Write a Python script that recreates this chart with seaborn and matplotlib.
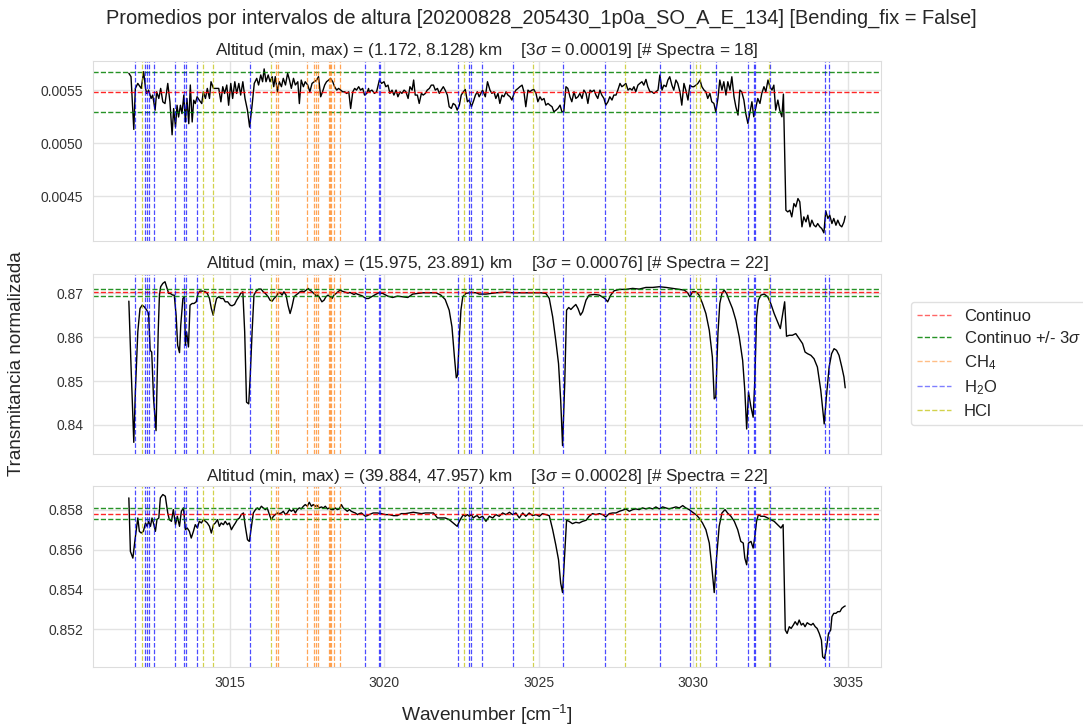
import matplotlib
matplotlib.use("Agg")
import matplotlib.pyplot as plt
from matplotlib.lines import Line2D
import seaborn as sns
import pandas as pd

# ---------------- data ----------------
wn1 = [3011.73, 3011.80, 3011.89, 3011.94, 3012.02, 3012.13, 3012.21, 3012.27, 3012.31, 3012.37,
       3012.45, 3012.50, 3012.58, 3012.63, 3012.70, 3012.76, 3012.83, 3012.90, 3012.99, 3013.06,
       3013.13, 3013.18, 3013.24, 3013.29, 3013.34, 3013.40, 3013.45, 3013.51, 3013.56, 3013.61,
       3013.67, 3013.72, 3013.78, 3013.83, 3013.88, 3013.94, 3014.01, 3014.09, 3014.14, 3014.21,
       3014.27, 3014.34, 3014.39, 3014.47, 3014.55, 3014.64, 3014.71, 3014.77, 3014.83, 3014.90,
       3014.96, 3015.03, 3015.09, 3015.16, 3015.22, 3015.29, 3015.35, 3015.42, 3015.49, 3015.57,
       3015.64, 3015.72, 3015.79, 3015.87, 3015.93, 3016.00, 3016.06, 3016.11, 3016.17, 3016.24,
       3016.30, 3016.37, 3016.42, 3016.47, 3016.54, 3016.60, 3016.67, 3016.73, 3016.80, 3016.87,
       3016.93, 3016.99, 3017.06, 3017.12, 3017.20, 3017.25, 3017.31, 3017.38, 3017.44, 3017.52,
       3017.59, 3017.66, 3017.73, 3017.81, 3017.87, 3017.94, 3018.00, 3018.07, 3018.13, 3018.20,
       3018.26, 3018.33, 3018.39, 3018.46, 3018.52, 3018.59, 3018.65, 3018.72, 3018.78, 3018.85,
       3018.91, 3018.98, 3019.04, 3019.10, 3019.17, 3019.23, 3019.30, 3019.36, 3019.43, 3019.49,
       3019.51, 3019.60, 3019.68, 3019.75, 3019.84, 3019.91, 3019.99, 3020.05, 3020.12, 3020.18,
       3020.25, 3020.31, 3020.38, 3020.44, 3020.51, 3020.57, 3020.64, 3020.70, 3020.77, 3020.83,
       3020.90, 3020.95, 3021.00, 3021.07, 3021.13, 3021.20, 3021.26, 3021.33, 3021.39, 3021.46,
       3021.52, 3021.59, 3021.65, 3021.72, 3021.78, 3021.84, 3021.91, 3021.97, 3022.04, 3022.10,
       3022.17, 3022.23, 3022.30, 3022.36, 3022.43, 3022.49, 3022.56, 3022.62, 3022.69, 3022.75,
       3022.82, 3022.88, 3022.95, 3023.01, 3023.07, 3023.18, 3023.27, 3023.34, 3023.42, 3023.48,
       3023.55, 3023.61, 3023.68, 3023.74, 3023.81, 3023.87, 3023.94, 3024.00, 3024.07, 3024.13,
       3024.20, 3024.26, 3024.33, 3024.39, 3024.46, 3024.52, 3024.58, 3024.65, 3024.71, 3024.78,
       3024.84, 3024.91, 3024.97, 3025.04, 3025.10, 3025.17, 3025.23, 3025.30, 3025.36, 3025.43,
       3025.49, 3025.56, 3025.62, 3025.69, 3025.75, 3025.81, 3025.88, 3025.94, 3026.01, 3026.07,
       3026.14, 3026.20, 3026.27, 3026.33, 3026.40, 3026.46, 3026.53, 3026.59, 3026.66, 3026.72,
       3026.79, 3026.85, 3026.91, 3026.98, 3027.04, 3027.11, 3027.17, 3027.24, 3027.30, 3027.37,
       3027.43, 3027.50, 3027.56, 3027.63, 3027.69, 3027.76, 3027.82, 3027.89, 3027.95, 3028.02,
       3028.08, 3028.14, 3028.21, 3028.27, 3028.34, 3028.40, 3028.47, 3028.53, 3028.60, 3028.66,
       3028.73, 3028.79, 3028.86, 3028.92, 3028.99, 3029.05, 3029.12, 3029.18, 3029.24, 3029.31,
       3029.37, 3029.44, 3029.50, 3029.57, 3029.63, 3029.70, 3029.76, 3029.83, 3029.89, 3029.96,
       3030.02, 3030.09, 3030.15, 3030.22, 3030.28, 3030.35, 3030.41, 3030.47, 3030.54, 3030.60,
       3030.67, 3030.73, 3030.80, 3030.86, 3030.93, 3030.99, 3031.06, 3031.12, 3031.19, 3031.25,
       3031.32, 3031.38, 3031.45, 3031.51, 3031.57, 3031.64, 3031.70, 3031.77, 3031.83, 3031.90,
       3031.96, 3032.03, 3032.09, 3032.16, 3032.22, 3032.29, 3032.35, 3032.42, 3032.48, 3032.55,
       3032.61, 3032.67, 3032.74, 3032.80, 3032.87, 3032.92, 3033.00, 3033.06, 3033.13, 3033.19,
       3033.26, 3033.32, 3033.39, 3033.45, 3033.52, 3033.58, 3033.65, 3033.71, 3033.78, 3033.84,
       3033.91, 3033.97, 3034.03, 3034.10, 3034.16, 3034.23, 3034.29, 3034.36, 3034.42, 3034.49,
       3034.55, 3034.62, 3034.68, 3034.75, 3034.81, 3034.88, 3034.92]
tr1 = [0.005659, 0.005627, 0.005129, 0.005516, 0.005563, 0.005516, 0.005674, 0.005516, 0.005468, 0.005500,
       0.005421, 0.005453, 0.005310, 0.005484, 0.005421, 0.005516, 0.005389, 0.005373, 0.005563, 0.005389,
       0.005078, 0.005326, 0.005151, 0.005357, 0.005246, 0.005357, 0.005278, 0.005453, 0.005199, 0.005421,
       0.005183, 0.005548, 0.005199, 0.005405, 0.005373, 0.005437, 0.005405, 0.005373, 0.005484, 0.005421,
       0.005516, 0.005421, 0.005579, 0.005516, 0.005516, 0.005516, 0.005389, 0.005532, 0.005468, 0.005548,
       0.005357, 0.005563, 0.005421, 0.005579, 0.005468, 0.005563, 0.005453, 0.005579, 0.005421, 0.005310,
       0.005151, 0.005357, 0.005563, 0.005611, 0.005548, 0.005643, 0.005579, 0.005700, 0.005579, 0.005643,
       0.005579, 0.005627, 0.005532, 0.005627, 0.005484, 0.005579, 0.005532, 0.005611, 0.005548, 0.005659,
       0.005595, 0.005516, 0.005611, 0.005548, 0.005579, 0.005373, 0.005595, 0.005532, 0.005579, 0.005548,
       0.005484, 0.005563, 0.005579, 0.005595, 0.005627, 0.005437, 0.005484, 0.005548, 0.005579, 0.005595,
       0.005611, 0.005579, 0.005532, 0.005500, 0.005516, 0.005500, 0.005484, 0.005484, 0.005468, 0.005484,
       0.005326, 0.005484, 0.005516, 0.005500, 0.005532, 0.005500, 0.005516, 0.005453, 0.005468, 0.005516,
       0.005484, 0.005500, 0.005469, 0.005484, 0.005595, 0.005563, 0.005579, 0.005532, 0.005547, 0.005469,
       0.005500, 0.005453, 0.005500, 0.005437, 0.005484, 0.005469, 0.005500, 0.005484, 0.005421, 0.005532,
       0.005500, 0.005595, 0.005453, 0.005453, 0.005374, 0.005469, 0.005453, 0.005469, 0.005500, 0.005516,
       0.005547, 0.005547, 0.005500, 0.005516, 0.005469, 0.005500, 0.005532, 0.005500, 0.005453, 0.005343,
       0.005327, 0.005374, 0.005358, 0.005311, 0.005358, 0.005453, 0.005484, 0.005506, 0.005390, 0.005406,
       0.005343, 0.005390, 0.005453, 0.005484, 0.005437, 0.005500, 0.005437, 0.005579, 0.005500, 0.005469,
       0.005484, 0.005421, 0.005469, 0.005374, 0.005453, 0.005437, 0.005484, 0.005453, 0.005437, 0.005406,
       0.005469, 0.005500, 0.005516, 0.005532, 0.005547, 0.005484, 0.005343, 0.005500, 0.005484, 0.005500,
       0.005506, 0.005469, 0.005390, 0.005437, 0.005406, 0.005421, 0.005358, 0.005374, 0.005358, 0.005343,
       0.005295, 0.005311, 0.005327, 0.005358, 0.005295, 0.005295, 0.005532, 0.005516, 0.005437, 0.005390,
       0.005484, 0.005421, 0.005437, 0.005469, 0.005421, 0.005500, 0.005469, 0.005374, 0.005500, 0.005484,
       0.005500, 0.005453, 0.005421, 0.005500, 0.005453, 0.005421, 0.005358, 0.005390, 0.005437, 0.005406,
       0.005453, 0.005453, 0.005500, 0.005563, 0.005532, 0.005547, 0.005563, 0.005500, 0.005516, 0.005500,
       0.005532, 0.005484, 0.005547, 0.005563, 0.005579, 0.005547, 0.005601, 0.005532, 0.005484, 0.005484,
       0.005469, 0.005484, 0.005500, 0.005642, 0.005500, 0.005547, 0.005532, 0.005595, 0.005626, 0.005547,
       0.005500, 0.005595, 0.005563, 0.005484, 0.005358, 0.005563, 0.005500, 0.005406, 0.005547, 0.005532,
       0.005532, 0.005547, 0.005563, 0.005595, 0.005532, 0.005500, 0.005484, 0.005421, 0.005469, 0.005390,
       0.005374, 0.005295, 0.005421, 0.005595, 0.005500, 0.005579, 0.005453, 0.005579, 0.005500, 0.005626,
       0.005437, 0.005343, 0.005264, 0.005500, 0.005484, 0.005406, 0.005280, 0.005185, 0.005280, 0.005390,
       0.005248, 0.005343, 0.005421, 0.005374, 0.005469, 0.005532, 0.005484, 0.005595, 0.005532, 0.005500,
       0.005547, 0.005311, 0.005406, 0.005311, 0.005248, 0.005462, 0.004366, 0.004350, 0.004366, 0.004303,
       0.004429, 0.004398, 0.004476, 0.004445, 0.004209, 0.004303, 0.004256, 0.004319, 0.004209, 0.004272,
       0.004224, 0.004209, 0.004240, 0.004209, 0.004193, 0.004152, 0.004360, 0.004288, 0.004319, 0.004240,
       0.004288, 0.004224, 0.004272, 0.004224, 0.004209, 0.004256, 0.004309]

wn2 = [3011.73, 3011.80, 3011.89, 3011.94, 3012.02, 3012.09, 3012.16, 3012.23, 3012.31, 3012.37,
       3012.42, 3012.47, 3012.53, 3012.61, 3012.68, 3012.72, 3012.76, 3012.83, 3012.90, 3012.97,
       3013.02, 3013.07, 3013.15, 3013.20, 3013.26, 3013.31, 3013.37, 3013.41, 3013.48, 3013.53,
       3013.56, 3013.60, 3013.66, 3013.71, 3013.78, 3013.84, 3013.91, 3013.97, 3014.03, 3014.12,
       3014.21, 3014.27, 3014.34, 3014.40, 3014.46, 3014.52, 3014.57, 3014.64, 3014.71, 3014.79,
       3014.85, 3014.93, 3015.01, 3015.07, 3015.15, 3015.22, 3015.29, 3015.35, 3015.42, 3015.48,
       3015.54, 3015.61, 3015.66, 3015.72, 3015.78, 3015.85, 3015.93, 3016.01, 3016.08, 3016.15,
       3016.24, 3016.30, 3016.37, 3016.43, 3016.49, 3016.56, 3016.62, 3016.69, 3016.75, 3016.82,
       3016.88, 3016.95, 3017.01, 3017.08, 3017.14, 3017.21, 3017.27, 3017.34, 3017.40, 3017.47,
       3017.53, 3017.59, 3017.66, 3017.72, 3017.79, 3017.85, 3017.92, 3017.98, 3018.05, 3018.11,
       3018.18, 3018.24, 3018.31, 3018.37, 3018.44, 3018.50, 3018.57, 3018.63, 3018.70, 3018.76,
       3018.82, 3018.89, 3018.95, 3019.02, 3019.08, 3019.15, 3019.21, 3019.28, 3019.34, 3019.41,
       3019.49, 3019.68, 3019.82, 3019.95, 3020.11, 3020.27, 3020.43, 3020.59, 3020.76, 3020.92,
       3021.08, 3021.24, 3021.46, 3021.67, 3021.83, 3021.97, 3022.10, 3022.19, 3022.27, 3022.33,
       3022.37, 3022.43, 3022.48, 3022.54, 3022.64, 3022.81, 3022.97, 3023.07, 3023.29, 3023.61,
       3023.94, 3024.15, 3024.48, 3024.80, 3025.07, 3025.23, 3025.34, 3025.45, 3025.55, 3025.64,
       3025.71, 3025.77, 3025.84, 3025.90, 3025.97, 3026.04, 3026.12, 3026.20, 3026.27, 3026.35,
       3026.42, 3026.53, 3026.63, 3026.80, 3026.96, 3027.14, 3027.23, 3027.33, 3027.44, 3027.61,
       3027.82, 3028.04, 3028.25, 3028.47, 3028.69, 3028.90, 3029.12, 3029.33, 3029.55, 3029.71,
       3029.82, 3029.89, 3029.98, 3030.09, 3030.19, 3030.30, 3030.41, 3030.52, 3030.62, 3030.68,
       3030.73, 3030.80, 3030.86, 3030.93, 3031.00, 3031.08, 3031.16, 3031.27, 3031.38, 3031.49,
       3031.60, 3031.67, 3031.73, 3031.79, 3031.87, 3031.94, 3031.99, 3032.05, 3032.11, 3032.19,
       3032.30, 3032.41, 3032.51, 3032.62, 3032.73, 3032.82, 3032.89, 3032.96, 3033.02, 3033.11,
       3033.21, 3033.32, 3033.43, 3033.54, 3033.62, 3033.70, 3033.81, 3033.91, 3034.02, 3034.13,
       3034.24, 3034.31, 3034.40, 3034.48, 3034.56, 3034.64, 3034.72, 3034.81, 3034.88, 3034.92]
tr2 = [0.86824, 0.85359, 0.83603, 0.84748, 0.86122, 0.86656, 0.86733, 0.86695, 0.86618, 0.86542,
       0.85702, 0.85664, 0.84595, 0.83870, 0.86122, 0.86962, 0.87153, 0.87229, 0.87267, 0.87115,
       0.87000, 0.87000, 0.86962, 0.86962, 0.86504, 0.85817, 0.85649, 0.86275, 0.86885, 0.86924,
       0.85817, 0.86122, 0.85779, 0.86733, 0.86771, 0.86771, 0.86809, 0.87000, 0.87053, 0.87053,
       0.87038, 0.87000, 0.86885, 0.86656, 0.86504, 0.86733, 0.86885, 0.86924, 0.86885, 0.86885,
       0.86809, 0.86809, 0.86733, 0.86718, 0.86748, 0.86847, 0.86924, 0.87000, 0.87038, 0.86122,
       0.84519, 0.84481, 0.85130, 0.86122, 0.86962, 0.87053, 0.87099, 0.87099, 0.87038, 0.87000,
       0.86924, 0.86847, 0.86824, 0.86885, 0.86924, 0.87000, 0.87023, 0.86962, 0.87038, 0.86962,
       0.86733, 0.86542, 0.86695, 0.86924, 0.86962, 0.87000, 0.87038, 0.87053, 0.87038, 0.87076,
       0.87115, 0.87076, 0.87038, 0.87000, 0.86947, 0.86962, 0.86885, 0.86809, 0.86847, 0.86924,
       0.86962, 0.86924, 0.86885, 0.86962, 0.87000, 0.87038, 0.87076, 0.87053, 0.87038, 0.87023,
       0.87008, 0.87023, 0.87000, 0.86977, 0.87000, 0.86977, 0.86962, 0.86947, 0.86916, 0.86885,
       0.86885, 0.86962, 0.87015, 0.87000, 0.86939, 0.86908, 0.86939, 0.86924, 0.86908, 0.86985,
       0.87000, 0.87015, 0.87015, 0.87015, 0.86962, 0.86863, 0.86618, 0.86237, 0.85550, 0.85076,
       0.85130, 0.86008, 0.86618, 0.86924, 0.87000, 0.87023, 0.87015, 0.86985, 0.86985, 0.87015,
       0.87031, 0.87015, 0.87015, 0.87015, 0.87015, 0.87000, 0.86885, 0.86466, 0.85931, 0.85397,
       0.84557, 0.83527, 0.84939, 0.86618, 0.86679, 0.86634, 0.86695, 0.86748, 0.86656, 0.86504,
       0.86580, 0.86847, 0.86962, 0.86977, 0.86962, 0.86885, 0.86809, 0.86962, 0.87061, 0.87092,
       0.87092, 0.87115, 0.87099, 0.87137, 0.87137, 0.87153, 0.87137, 0.87115, 0.87092, 0.87076,
       0.87015, 0.86924, 0.87038, 0.87038, 0.86962, 0.86771, 0.86542, 0.86160, 0.85550, 0.84595,
       0.84634, 0.86084, 0.86771, 0.87000, 0.87076, 0.87000, 0.86847, 0.86656, 0.86389, 0.86008,
       0.85473, 0.84786, 0.83908, 0.84748, 0.84405, 0.84176, 0.84939, 0.86466, 0.86847, 0.86962,
       0.86985, 0.86924, 0.86771, 0.86542, 0.86351, 0.86198, 0.86504, 0.86809, 0.86023, 0.86046,
       0.86046, 0.86084, 0.85969, 0.85855, 0.85664, 0.85626, 0.85588, 0.85511, 0.85321, 0.84786,
       0.84023, 0.84634, 0.85321, 0.85626, 0.85740, 0.85702, 0.85588, 0.85321, 0.85092, 0.84847]

wn3 = [3011.73, 3011.78, 3011.86, 3011.93, 3012.02, 3012.07, 3012.13, 3012.20, 3012.27, 3012.32,
       3012.37, 3012.43, 3012.48, 3012.54, 3012.59, 3012.64, 3012.70, 3012.75, 3012.83, 3012.91,
       3012.99, 3013.04, 3013.11, 3013.17, 3013.24, 3013.30, 3013.37, 3013.43, 3013.50, 3013.56,
       3013.62, 3013.69, 3013.75, 3013.82, 3013.88, 3013.95, 3014.01, 3014.08, 3014.14, 3014.21,
       3014.27, 3014.34, 3014.40, 3014.47, 3014.53, 3014.60, 3014.66, 3014.72, 3014.79, 3014.85,
       3014.92, 3014.98, 3015.05, 3015.11, 3015.18, 3015.24, 3015.31, 3015.37, 3015.44, 3015.50,
       3015.57, 3015.63, 3015.70, 3015.76, 3015.83, 3015.89, 3015.95, 3016.02, 3016.08, 3016.15,
       3016.21, 3016.28, 3016.34, 3016.41, 3016.47, 3016.54, 3016.60, 3016.67, 3016.73, 3016.80,
       3016.86, 3016.93, 3016.99, 3017.06, 3017.12, 3017.18, 3017.25, 3017.31, 3017.38, 3017.44,
       3017.51, 3017.57, 3017.64, 3017.70, 3017.77, 3017.83, 3017.90, 3017.96, 3018.03, 3018.09,
       3018.16, 3018.22, 3018.28, 3018.35, 3018.41, 3018.48, 3018.54, 3018.61, 3018.67, 3018.74,
       3018.80, 3018.87, 3018.93, 3019.00, 3019.06, 3019.13, 3019.19, 3019.26, 3019.32, 3019.39,
       3019.45, 3019.51, 3019.64, 3019.77, 3019.90, 3020.03, 3020.16, 3020.29, 3020.42, 3020.55,
       3020.68, 3020.81, 3020.94, 3021.07, 3021.20, 3021.33, 3021.46, 3021.59, 3021.72, 3021.84,
       3021.97, 3022.10, 3022.23, 3022.36, 3022.43, 3022.49, 3022.56, 3022.62, 3022.69, 3022.75,
       3022.82, 3022.88, 3022.95, 3023.01, 3023.07, 3023.18, 3023.29, 3023.40, 3023.51, 3023.61,
       3023.72, 3023.83, 3023.94, 3024.05, 3024.15, 3024.26, 3024.37, 3024.48, 3024.58, 3024.69,
       3024.80, 3024.91, 3025.02, 3025.12, 3025.23, 3025.34, 3025.45, 3025.55, 3025.64, 3025.71,
       3025.77, 3025.84, 3025.90, 3025.98, 3026.09, 3026.20, 3026.31, 3026.42, 3026.53, 3026.63,
       3026.74, 3026.85, 3026.96, 3027.07, 3027.17, 3027.28, 3027.39, 3027.50, 3027.61, 3027.71,
       3027.82, 3027.93, 3028.04, 3028.14, 3028.25, 3028.36, 3028.47, 3028.58, 3028.69, 3028.79,
       3028.90, 3029.01, 3029.12, 3029.22, 3029.33, 3029.44, 3029.55, 3029.66, 3029.76, 3029.87,
       3029.98, 3030.09, 3030.19, 3030.30, 3030.41, 3030.52, 3030.60, 3030.68, 3030.75, 3030.84,
       3030.93, 3031.03, 3031.11, 3031.22, 3031.33, 3031.44, 3031.54, 3031.62, 3031.67, 3031.73,
       3031.79, 3031.87, 3031.94, 3031.99, 3032.05, 3032.11, 3032.19, 3032.30, 3032.41, 3032.51,
       3032.62, 3032.73, 3032.84, 3032.91, 3032.98, 3033.04, 3033.11, 3033.17, 3033.24, 3033.30,
       3033.37, 3033.43, 3033.50, 3033.56, 3033.62, 3033.69, 3033.75, 3033.82, 3033.88, 3033.95,
       3034.01, 3034.08, 3034.15, 3034.19, 3034.25, 3034.32, 3034.38, 3034.45, 3034.49, 3034.55,
       3034.62, 3034.68, 3034.75, 3034.81, 3034.88, 3034.92]
tr3 = [0.858587, 0.855905, 0.855570, 0.856492, 0.857581, 0.856911, 0.856827, 0.856911, 0.857330, 0.857162,
       0.857413, 0.857162, 0.857581, 0.857246, 0.856911, 0.857497, 0.857581, 0.858587, 0.858754, 0.858670,
       0.857832, 0.857497, 0.857413, 0.858000, 0.857246, 0.857665, 0.857162, 0.857916, 0.858084, 0.856994,
       0.857078, 0.856911, 0.856575, 0.856911, 0.857246, 0.857078, 0.857413, 0.857330, 0.857497, 0.857413,
       0.857330, 0.857162, 0.856827, 0.857246, 0.857330, 0.857497, 0.857162, 0.857330, 0.857246, 0.857413,
       0.857246, 0.857330, 0.856994, 0.857162, 0.857330, 0.857497, 0.857581, 0.857749, 0.857832, 0.857162,
       0.856492, 0.856408, 0.857162, 0.857832, 0.858000, 0.858084, 0.858000, 0.858168, 0.858084, 0.858000,
       0.858084, 0.857749, 0.857497, 0.857665, 0.857749, 0.857832, 0.857799, 0.857832, 0.857916, 0.857749,
       0.857832, 0.858000, 0.857916, 0.858000, 0.857832, 0.858000, 0.858084, 0.858034, 0.858168, 0.858251,
       0.858168, 0.858369, 0.858168, 0.858251, 0.858168, 0.858201, 0.858084, 0.858134, 0.858084, 0.858168,
       0.858034, 0.858084, 0.858000, 0.858000, 0.858084, 0.858000, 0.858034, 0.858251, 0.858084, 0.858000,
       0.857916, 0.858000, 0.857916, 0.857866, 0.857832, 0.857749, 0.857799, 0.857832, 0.857749, 0.857665,
       0.857698, 0.857749, 0.857832, 0.857832, 0.857799, 0.857749, 0.857749, 0.857698, 0.857698, 0.857799,
       0.857799, 0.857832, 0.857866, 0.857832, 0.857799, 0.857832, 0.857832, 0.857832, 0.857581, 0.857581,
       0.857581, 0.857497, 0.857330, 0.857162, 0.857413, 0.857581, 0.857749, 0.857665, 0.857749, 0.857665,
       0.857749, 0.857581, 0.857665, 0.857698, 0.857581, 0.857665, 0.857413, 0.857665, 0.857581, 0.857749,
       0.857665, 0.857832, 0.857749, 0.857866, 0.857749, 0.857832, 0.857581, 0.857832, 0.857665, 0.857832,
       0.857698, 0.857749, 0.857665, 0.857799, 0.857749, 0.857698, 0.856994, 0.856240, 0.855486, 0.854313,
       0.853844, 0.855821, 0.857464, 0.857413, 0.857296, 0.857363, 0.857330, 0.857413, 0.857464, 0.857665,
       0.857799, 0.857749, 0.857799, 0.857749, 0.857631, 0.857799, 0.857832, 0.857832, 0.857916, 0.857966,
       0.858034, 0.857916, 0.858000, 0.858034, 0.858000, 0.858084, 0.858034, 0.858084, 0.858034, 0.858134,
       0.858034, 0.858134, 0.858084, 0.858034, 0.858084, 0.858134, 0.858084, 0.858201, 0.858084, 0.858000,
       0.857866, 0.857749, 0.857581, 0.857330, 0.856994, 0.856324, 0.855151, 0.853844, 0.855486, 0.857162,
       0.857832, 0.858000, 0.857832, 0.857665, 0.857413, 0.856994, 0.856408, 0.856324, 0.855570, 0.855235,
       0.856324, 0.856408, 0.856073, 0.856575, 0.857413, 0.857749, 0.857665, 0.857665, 0.857581, 0.857497,
       0.857413, 0.857246, 0.857078, 0.857246, 0.851966, 0.851799, 0.852134, 0.852050, 0.852218, 0.852385,
       0.852218, 0.852469, 0.852218, 0.852302, 0.852134, 0.852335, 0.852268, 0.852218, 0.852302, 0.852134,
       0.852050, 0.851799, 0.851464, 0.850626, 0.850542, 0.851128, 0.851799, 0.851966, 0.852637, 0.852804,
       0.852804, 0.852888, 0.852888, 0.853056, 0.853140, 0.853173]

# continuum level and 3-sigma band for each altitude interval
continuum = [0.005483, 0.87025, 0.85779]
sigma3 = [0.00019, 0.00076, 0.00028]
titles = [
    "Altitud (min, max) = (1.172, 8.128) km    [3$\\sigma$ = 0.00019] [# Spectra = 18]",
    "Altitud (min, max) = (15.975, 23.891) km    [3$\\sigma$ = 0.00076] [# Spectra = 22]",
    "Altitud (min, max) = (39.884, 47.957) km    [3$\\sigma$ = 0.00028] [# Spectra = 22]",
]
yticks = [[0.0045, 0.0050, 0.0055], [0.84, 0.85, 0.86, 0.87], [0.852, 0.854, 0.856, 0.858]]
ytick_labels = [["0.0045", "0.0050", "0.0055"], ["0.84", "0.85", "0.86", "0.87"],
                ["0.852", "0.854", "0.856", "0.858"]]
xticks = [3015, 3020, 3025, 3030, 3035]

# line positions of species (cm-1)
ch4_lines = [3016.49, 3016.57, 3017.50, 3017.71, 3017.79, 3017.86, 3018.20, 3018.24, 3018.28,
             3018.38, 3018.57]
h2o_lines = [3011.93, 3012.25, 3012.31, 3012.39, 3012.56, 3013.24, 3013.53, 3013.58, 3013.94,
             3015.64, 3019.39, 3019.82, 3019.85, 3022.37, 3022.75, 3022.82, 3023.16, 3024.16,
             3025.78, 3027.14, 3028.92, 3029.91, 3030.73, 3031.76, 3031.97, 3032.01, 3032.48,
             3034.27, 3034.40]
hcl_lines = [3012.15, 3014.14, 3014.44, 3016.33, 3022.57, 3024.80, 3027.79, 3030.09, 3030.22,
             3032.46]

series = [(wn1, tr1), (wn2, tr2), (wn3, tr3)]

# ---------------- style ----------------
sns.set_style("whitegrid")
plt.rcParams["font.family"] = ["Liberation Sans", "DejaVu Sans"]
plt.rcParams["mathtext.fontset"] = "custom"
plt.rcParams["mathtext.rm"] = "Liberation Sans"
plt.rcParams["mathtext.it"] = "Liberation Sans:italic"
plt.rcParams["mathtext.bf"] = "Liberation Sans:bold"

C_CONT = "#ff0000"
C_SIG = "#008000"
C_CH4 = "#ff7f0e"
C_H2O = "#0000ff"
C_HCL = "#bfbf00"
A_LINE = 0.7

fig, axes = plt.subplots(3, 1, figsize=(10.83, 7.28), dpi=100, sharex=True)
fig.subplots_adjust(left=0.0859, right=0.8135, top=0.9166, bottom=0.0842, hspace=0.18)

for i, ax in enumerate(axes):
    wn, tr = series[i]
    df = pd.DataFrame({"wn": wn, "tr": tr})
    sns.lineplot(data=df, x="wn", y="tr", ax=ax, color="black", lw=1.0,
                 sort=False, estimator=None)
    ax.axhline(continuum[i], color=C_CONT, ls="--", lw=1.0, alpha=0.85)
    ax.axhline(continuum[i] + sigma3[i], color=C_SIG, ls="--", lw=1.0, alpha=0.85)
    ax.axhline(continuum[i] - sigma3[i], color=C_SIG, ls="--", lw=1.0, alpha=0.85)
    for x in ch4_lines:
        ax.axvline(x, color=C_CH4, ls="--", lw=0.9, alpha=A_LINE)
    for x in h2o_lines:
        ax.axvline(x, color=C_H2O, ls="--", lw=0.9, alpha=A_LINE)
    for x in hcl_lines:
        ax.axvline(x, color=C_HCL, ls="--", lw=0.9, alpha=A_LINE)
    ax.set_yticks(yticks[i])
    ax.set_yticklabels(ytick_labels[i])
    ax.set_title(titles[i], fontsize=12.3, pad=4)
    ax.set_xlabel("")
    ax.set_ylabel("")
    ax.tick_params(labelsize=10, colors="#333333")
    for s in ax.spines.values():
        s.set_color("#dddddd")
    ax.grid(color="#e3e3e3", lw=1)

axes[-1].set_xticks(xticks)

fig.suptitle("Promedios por intervalos de altura [20200828_205430_1p0a_SO_A_E_134] [Bending_fix = False]",
             fontsize=14.4, x=0.5, y=0.975, va="center")
fig.text(487 / 1083, 1 - 715 / 728, "Wavenumber [cm$^{-1}$]", ha="center", va="center", fontsize=13.8)
fig.text(17 / 1083, 0.5, "Transmitancia normalizada", ha="center", va="center",
         rotation=90, fontsize=13.6)

handles = [
    Line2D([], [], color=C_CONT, ls="--", lw=1.0, alpha=0.6),
    Line2D([], [], color=C_SIG, ls="--", lw=1.0, alpha=0.85),
    Line2D([], [], color=C_CH4, ls="--", lw=1.0, alpha=0.5),
    Line2D([], [], color=C_H2O, ls="--", lw=1.0, alpha=0.5),
    Line2D([], [], color=C_HCL, ls="--", lw=1.0, alpha=0.7),
]
labels = ["Continuo", "Continuo +/- 3$\\sigma$", "CH$_4$", "H$_2$O", "HCl"]
fig.legend(handles, labels, loc="center left", bbox_to_anchor=(910.7 / 1083, 0.5005),
           borderaxespad=0, fontsize=12.0, labelspacing=0.4, handlelength=2.0,
           handletextpad=0.8, frameon=True, edgecolor="#d9d9d9")

fig.savefig("out.png", dpi=100)
